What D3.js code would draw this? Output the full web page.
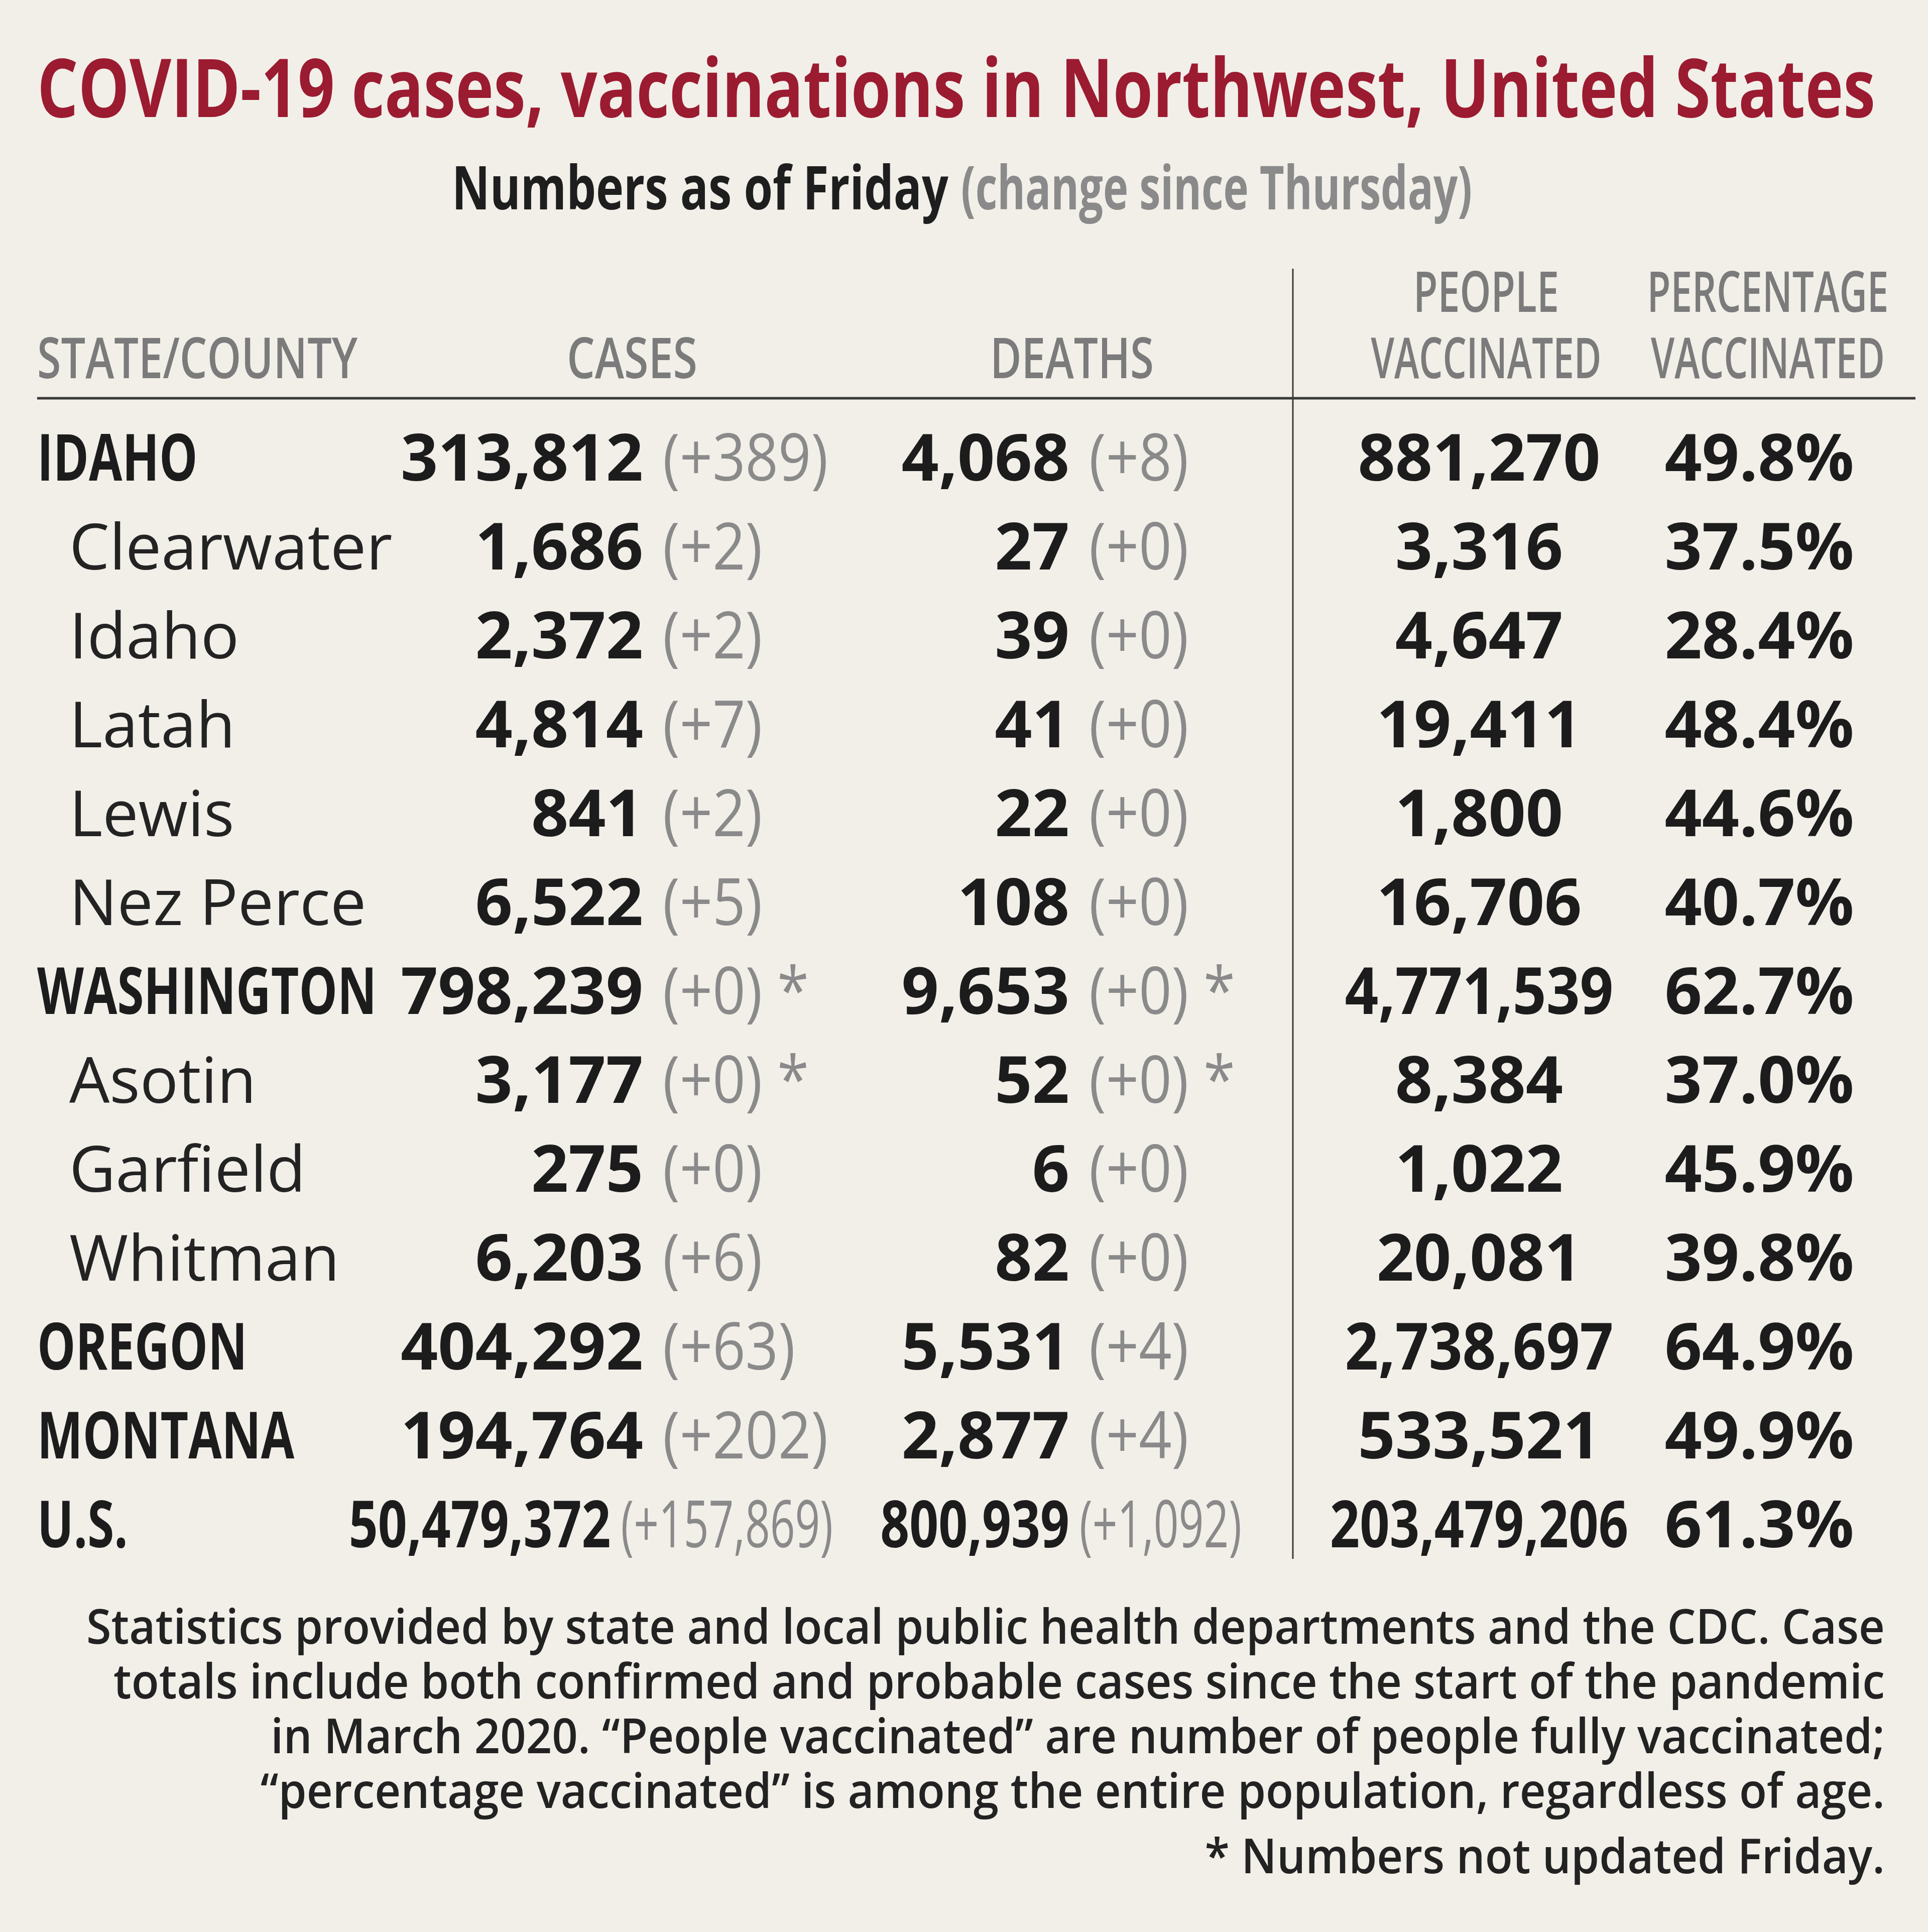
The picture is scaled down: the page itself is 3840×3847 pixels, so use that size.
<!DOCTYPE html>
<html><head><meta charset="utf-8">
<script src="https://cdn.jsdelivr.net/npm/d3@7"></script>
<style>html,body{margin:0;padding:0;background:#f2efe9;} svg{display:block;}</style>
</head><body><svg id="chart" width="3840" height="3847"></svg>
<script>
// ---------- DATA ----------
const names = ["IDAHO","Clearwater","Idaho","Latah","Lewis","Nez Perce","WASHINGTON","Asotin","Garfield","Whitman","OREGON","MONTANA","U.S."];
const rowTypes = ["state","county","county","county","county","county","state","county","county","county","state","state","nation"];
const cases = [313812,1686,2372,4814,841,6522,798239,3177,275,6203,404292,194764,50479372];
const casesChange = [389,2,2,7,2,5,0,0,0,6,63,202,157869];
const deaths = [4068,27,39,41,22,108,9653,52,6,82,5531,2877,800939];
const deathsChange = [8,0,0,0,0,0,0,0,0,0,4,4,1092];
const peopleVaccinated = [881270,3316,4647,19411,1800,16706,4771539,8384,1022,20081,2738697,533521,203479206];
const pctVaccinated = [49.8,37.5,28.4,48.4,44.6,40.7,62.7,37.0,45.9,39.8,64.9,49.9,61.3];
const notUpdated = [false,false,false,false,false,false,true,true,false,false,false,false,false];

const columnHeaders = [["STATE/COUNTY"],["CASES"],["DEATHS"],["PEOPLE","VACCINATED"],["PERCENTAGE","VACCINATED"]];
const title = "COVID-19 cases, vaccinations in Northwest, United States";
const subtitleMain = "Numbers as of Friday";
const subtitleNote = "(change since Thursday)";
const footnoteLines = [
  "Statistics provided by state and local public health departments and the CDC. Case",
  "totals include both confirmed and probable cases since the start of the pandemic",
  "in March 2020. \u201CPeople vaccinated\u201D are number of people fully vaccinated;",
  "\u201Cpercentage vaccinated\u201D is among the entire population, regardless of age.",
  "* Numbers not updated Friday."
];

// ---------- LAYOUT ----------
const W = 3840, H = 3847;
const FONT = "'Open Sans','Noto Sans',sans-serif";
const C = {bg:"#f2efe9", title:"#9b1b30", ink:"#1c1c1c", gray:"#8a8a8a", head:"#7b7b7b", rule:"#3a3a3a"};
const svg = d3.select("#chart");
svg.append("rect").attr("width", W).attr("height", H).attr("fill", C.bg);

function squeeze(node, factor, maxW) {
  const w = node.getComputedTextLength();
  let t = w * factor;
  if (maxW && t > maxW) t = maxW;
  if (Math.abs(t - w) > 0.5) {
    node.setAttribute("textLength", t);
    node.setAttribute("lengthAdjust", "spacingAndGlyphs");
  }
  return t;
}
function fitTo(node, width) {
  node.setAttribute("textLength", width);
  node.setAttribute("lengthAdjust", "spacingAndGlyphs");
}
function txt(x, y, s, size, weight, fill, anchor) {
  return svg.append("text").attr("x", x).attr("y", y).text(s)
    .attr("font-family", FONT).attr("font-size", size).attr("font-weight", weight)
    .attr("fill", fill).attr("text-anchor", anchor || "start");
}

// Title & subtitle
fitTo(txt(74, 233, title, 161, 700, C.title).node(), 3661);
fitTo(txt(900, 417, subtitleMain, 120, 700, "#1e1e1e").node(), 989);
fitTo(txt(1914, 417, subtitleNote, 120, 700, C.gray).node(), 1018);

// Column headers (position + condensed width per header line)
const headerLayout = [
  {x:74, anchor:"start", widths:[638]},
  {x:1259, anchor:"middle", widths:[260]},
  {x:2135, anchor:"middle", widths:[326]},
  {x:2960, anchor:"middle", widths:[290, 459]},
  {x:3521, anchor:"middle", widths:[481, 466]}
];
columnHeaders.forEach((lines, k) => {
  const h = headerLayout[k];
  lines.forEach((s, i) => {
    const y = 753 - (lines.length - 1 - i) * 132;
    fitTo(txt(h.x, y, s, 113, 600, C.head, h.anchor).node(), h.widths[i]);
  });
});

// Rules
svg.append("line").attr("x1", 74).attr("x2", 3815).attr("y1", 793).attr("y2", 793)
  .attr("stroke", C.rule).attr("stroke-width", 5);
svg.append("line").attr("x1", 2575).attr("x2", 2575).attr("y1", 535).attr("y2", 3104)
  .attr("stroke", C.rule).attr("stroke-width", 3);

// Rows
const n = names.length;
const y = d3.scalePoint().domain(d3.range(n)).range([957, 3081]);
const fmt = d3.format(",");
const fmtChange = v => "(+" + fmt(v) + ")";
const fmtPct = v => d3.format(".1f")(v) + "%";

const col = {
  stateX: 74, countyX: 138,
  cases: {anchor: 1281, limit: 1659},
  deaths: {anchor: 2130, limit: 2473},
  vacc: 2946, pct: 3504
};
const VAL = 130;

function pairCell(i, value, change, spec) {
  const nation = rowTypes[i] === "nation";
  const gap = nation ? 20 : 39;
  const vNode = txt(spec.anchor, y(i), fmt(value), VAL, 700, C.ink, "end").node();
  squeeze(vNode, nation ? 0.78 : 1);
  const cStr = fmtChange(change) + (notUpdated[i] ? " *" : "");
  const cNode = txt(spec.anchor + gap, y(i), cStr, VAL, 400, C.gray, "start").node();
  const cw = squeeze(cNode, nation ? 0.67 : 0.88);
  const end = spec.anchor + gap + cw;
  const shift = end > spec.limit ? spec.limit - end : 0;
  if (shift) {
    vNode.setAttribute("x", spec.anchor + shift);
    cNode.setAttribute("x", spec.anchor + gap + shift);
  }
}

d3.range(n).forEach(i => {
  const t = rowTypes[i];
  if (t === "county") {
    txt(col.countyX, y(i), names[i], 127, 400, "#232323");
  } else {
    squeeze(txt(col.stateX, y(i), names[i], VAL, 700, C.ink).node(), 0.74);
  }
  pairCell(i, cases[i], casesChange[i], col.cases);
  pairCell(i, deaths[i], deathsChange[i], col.deaths);
  const vn = txt(col.vacc, y(i), fmt(peopleVaccinated[i]), VAL, 700, C.ink, "middle").node();
  squeeze(vn, t === "nation" ? 0.8 : 1, t === "nation" ? null : 535);
  txt(col.pct, y(i), fmtPct(pctVaccinated[i]), VAL, 700, C.ink, "middle");
});

// Footnote
const fy = d3.scalePoint().domain(d3.range(4)).range([3273, 3600]);
const footNodes = footnoteLines.map((s, i) =>
  txt(3754, i < 4 ? fy(i) : 3730, s, 96, 600, "#222222", "end").node());
const footFactor = 3582 / footNodes[0].getComputedTextLength();
footNodes.forEach(nd => squeeze(nd, footFactor));
</script>
</body></html>
